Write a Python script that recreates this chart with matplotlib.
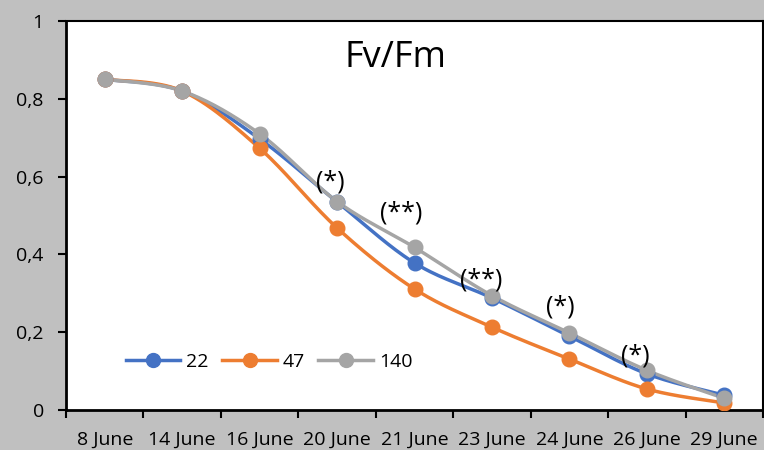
import numpy as np
import matplotlib
matplotlib.use("Agg")
import matplotlib.pyplot as plt
from matplotlib.ticker import FixedLocator, FuncFormatter

dates = ["8 June", "14 June", "16 June", "20 June", "21 June",
         "23 June", "24 June", "26 June", "29 June"]
s22 = [0.85, 0.82, 0.697, 0.535, 0.378, 0.288, 0.19, 0.093, 0.038]
s47 = [0.85, 0.82, 0.673, 0.468, 0.311, 0.213, 0.131, 0.054, 0.018]
s140 = [0.85, 0.82, 0.71, 0.536, 0.418, 0.294, 0.198, 0.102, 0.03]
series = [("22", s22, "#4472C4"), ("47", s47, "#ED7D31"), ("140", s140, "#A5A5A5")]

# significance marks: (category position, y, text)
marks = [(2.91, 0.586, "(*)"), (3.83, 0.506, "(**)"), (4.86, 0.334, "(**)"),
         (5.88, 0.265, "(*)"), (6.85, 0.139, "(*)")]


def smooth(x, y, n=30):
    # excel-like smoothing: bezier segments with catmull-rom control points
    x = np.asarray(x, float)
    y = np.asarray(y, float)
    px = np.concatenate([[x[0]], x, [x[-1]]])
    py = np.concatenate([[y[0]], y, [y[-1]]])
    xs, ys = [], []
    t = np.linspace(0, 1, n)
    for i in range(1, len(px) - 2):
        p0 = np.array([px[i], py[i]])
        p3 = np.array([px[i + 1], py[i + 1]])
        p1 = p0 + (np.array([px[i + 1], py[i + 1]]) - np.array([px[i - 1], py[i - 1]])) / 6
        p2 = p3 - (np.array([px[i + 2], py[i + 2]]) - np.array([px[i], py[i]])) / 6
        b = ((1 - t) ** 3)[:, None] * p0 + (3 * (1 - t) ** 2 * t)[:, None] * p1 \
            + (3 * (1 - t) * t ** 2)[:, None] * p2 + (t ** 3)[:, None] * p3
        xs.extend(b[:, 0])
        ys.extend(b[:, 1])
    return xs, ys


plt.rcParams['font.family'] = ['Open Sans', 'DejaVu Sans']

fig = plt.figure(figsize=(7.64, 4.5), dpi=100, facecolor="#C0C0C0")
ax = fig.add_axes([0.0864, 0.0889, 0.9123, 0.8644])
ax.set_facecolor("white")

x = np.arange(len(dates))
for name, vals, col in series:
    sx, sy = smooth(x, vals)
    ax.plot(sx, sy, color=col, lw=2.5, zorder=2)
    ax.plot(x, vals, "o", color=col, ms=10.5, zorder=3)
    ax.plot([], [], "-o", color=col, lw=2.5, ms=10, label=name)

for px, py, txt in marks:
    ax.text(px, py, txt, ha="center", va="center", fontsize=18, color="black")

ax.text(0.472, 0.905, "Fv/Fm", transform=ax.transAxes, ha="center", va="center",
        fontsize=26, color="black")

ax.set_xlim(-0.5, len(dates) - 0.5)
ax.set_ylim(0, 1)
ax.set_xticks(x)
ax.set_xticklabels(dates)
ax.xaxis.set_minor_locator(FixedLocator(np.arange(-0.5, len(dates), 1.0)))
ax.tick_params(axis="x", which="major", length=0, pad=15, labelsize=14)
ax.tick_params(axis="x", which="minor", length=6, width=1.5, direction="out")
ax.set_yticks([0, 0.2, 0.4, 0.6, 0.8, 1.0])
ax.yaxis.set_major_formatter(FuncFormatter(lambda v, p: ("%g" % round(v, 1)).replace(".", ",")))
ax.tick_params(axis="y", length=6, width=1.5, pad=10, labelsize=14)

for side in ["left", "bottom"]:
    ax.spines[side].set_linewidth(2)
for side in ["top", "right"]:
    ax.spines[side].set_linewidth(1.5)

ax.legend(loc="center left", bbox_to_anchor=(0.072, 0.123), ncol=3, frameon=False,
          fontsize=14, handlelength=2.8, handletextpad=0.3, columnspacing=0.7,
          borderpad=0)

fig.savefig("out.png", dpi=100, facecolor=fig.get_facecolor())
